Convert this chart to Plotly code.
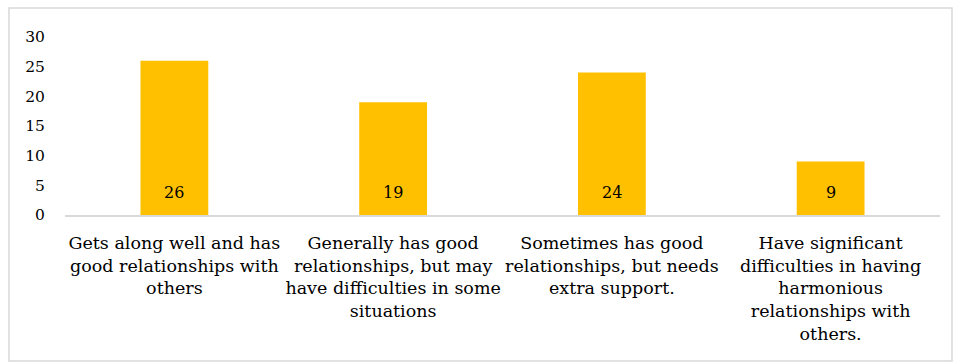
import plotly.graph_objects as go

categories = [
    "Gets along well and has<br>good relationships with<br>others",
    "Generally has good<br>relationships, but may<br>have difficulties in some<br>situations",
    "Sometimes has good<br>relationships, but needs<br>extra support.",
    "Have significant<br>difficulties in having<br>harmonious<br>relationships with<br>others.",
]
counts = [26, 19, 24, 9]
y_ticks = [0, 5, 10, 15, 20, 25, 30]

FONT = "DejaVu Serif"

fig = go.Figure(
    go.Bar(
        x=categories,
        y=counts,
        marker=dict(color="#FFC000", line=dict(width=0)),
        hoverinfo="x+y",
    )
)

# value labels near the base of each bar
for cat, val in zip(categories, counts):
    fig.add_annotation(
        x=cat,
        y=0,
        yshift=23,
        text=str(val),
        showarrow=False,
        font=dict(family=FONT, size=16, color="#000000"),
    )

fig.update_layout(
    width=958,
    height=362,
    margin=dict(l=65, r=18, t=37, b=147),
    paper_bgcolor="white",
    plot_bgcolor="white",
    bargap=0.69,
    showlegend=False,
    font=dict(family=FONT, size=16, color="#000000"),
    xaxis=dict(
        showline=True,
        linecolor="#d9d9d9",
        linewidth=1.5,
        ticks="outside",
        ticklen=11,
        tickcolor="rgba(0,0,0,0)",
        showgrid=False,
        tickfont=dict(family=FONT, size=17.5, color="#000000"),
    ),
    yaxis=dict(
        range=[0, 30],
        tickvals=y_ticks,
        showline=False,
        showgrid=False,
        zeroline=False,
        ticks="outside",
        ticklen=16,
        tickcolor="rgba(0,0,0,0)",
        tickfont=dict(family=FONT, size=15.5, color="#000000"),
    ),
    shapes=[
        dict(
            type="rect",
            xref="paper",
            yref="paper",
            x0=-0.064,
            x1=1.0137,
            y0=-0.82,
            y1=1.163,
            line=dict(color="#d9d9d9", width=1.5),
            fillcolor="rgba(0,0,0,0)",
            layer="below",
        )
    ],
)

fig.write_html("out.html")
